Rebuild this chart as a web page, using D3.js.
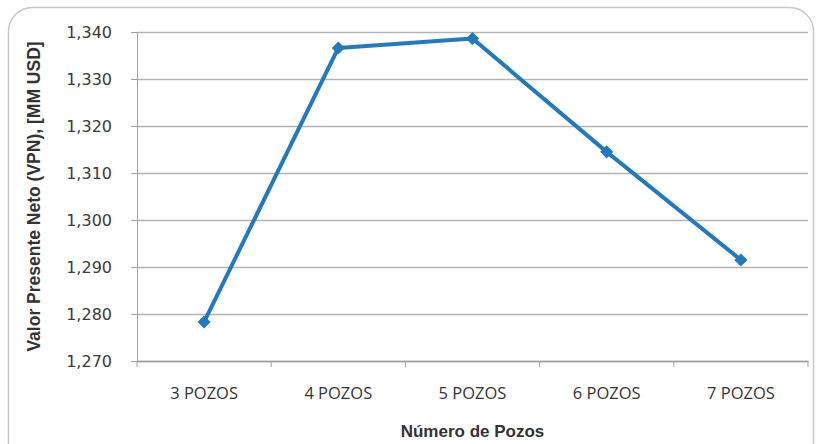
<!DOCTYPE html>
<html><head><meta charset="utf-8">
<script src="https://cdn.jsdelivr.net/npm/d3@7"></script>
<style>body{margin:0;background:#fff}svg{display:block}</style>
</head><body><svg id="c" width="820" height="444"></svg>
<script>
const categories = ["3 POZOS","4 POZOS","5 POZOS","6 POZOS","7 POZOS"];
const values = [1278.3, 1336.6, 1338.6, 1314.5, 1291.5];
const yTicks = [1270,1280,1290,1300,1310,1320,1330,1340];
const xTitle = "Número de Pozos";
const yTitle = "Valor Presente Neto (VPN),  [MM USD]";

const svg = d3.select("#c");
svg.append("rect").attr("x",8.5).attr("y",7.5).attr("width",805).attr("height",460)
  .attr("rx",24).attr("fill","#fff").attr("stroke","#c8c8c8").attr("stroke-width",1.5);

const L=137, R=808, T=32, B=361;
const x = d3.scaleBand().domain(categories).range([L,R]);
const y = d3.scaleLinear().domain([1270,1340]).range([B,T]);

const g = svg.append("g");
// gridlines
g.append("g").attr("transform",`translate(${L},0)`)
  .call(d3.axisLeft(y).tickValues(yTicks).tickSize(-(R-L)).tickFormat(""))
  .call(s=>s.select(".domain").remove())
  .call(s=>s.selectAll("line").attr("stroke","#b3b3b3").attr("stroke-width",1.5));
// y axis
g.append("g").attr("transform",`translate(${L},0)`)
  .call(d3.axisLeft(y).tickValues(yTicks).tickSize(6).tickPadding(19).tickFormat(d3.format(",")))
  .call(s=>s.select(".domain").attr("stroke","#a0a0a0"))
  .call(s=>s.selectAll("line").attr("stroke","#a0a0a0"))
  .call(s=>s.selectAll("text").attr("font-family","DejaVu Sans, sans-serif").attr("font-size",16).attr("fill","#3a3a3a"));
// x axis
g.append("g").attr("transform",`translate(0,${B})`)
  .call(d3.axisBottom(x).tickSize(0).tickPadding(26))
  .call(s=>s.select(".domain").attr("stroke","#a0a0a0").attr("stroke-width",1.5))
  .call(s=>s.selectAll("text").attr("font-family","Open Sans, Liberation Sans, sans-serif").attr("font-size",16.5).attr("fill","#333"));
// x tick marks at band boundaries
g.append("g").selectAll("line").data(categories.concat(["end"])).join("line")
  .attr("x1",(d,i)=>i<categories.length?x(d):R).attr("x2",(d,i)=>i<categories.length?x(d):R)
  .attr("y1",B).attr("y2",B+6).attr("stroke","#a0a0a0");

const pts = categories.map((c,i)=>[x(c)+x.bandwidth()/2, y(values[i])]);
g.append("path").attr("d",d3.line()(pts)).attr("fill","none")
  .attr("stroke","#2479bd").attr("stroke-width",4).attr("stroke-linejoin","round");
g.append("g").selectAll("path").data(pts).join("path")
  .attr("transform",d=>`translate(${d[0]},${d[1]})`)
  .attr("d",d3.symbol(d3.symbolDiamond2,110)())
  .attr("fill","#2479bd");

svg.append("text").attr("x",(L+R)/2).attr("y",437).attr("text-anchor","middle")
  .attr("font-family","Liberation Sans, Arial, sans-serif").attr("font-weight","bold").attr("font-size",17).attr("fill","#333").text(xTitle);
svg.append("text").attr("transform",`translate(40,${(T+B)/2}) rotate(-90)`).attr("text-anchor","middle")
  .attr("font-family","Liberation Sans, Arial, sans-serif").attr("font-weight","bold").attr("font-size",17.5).attr("fill","#333").text(yTitle);
</script></body></html>
